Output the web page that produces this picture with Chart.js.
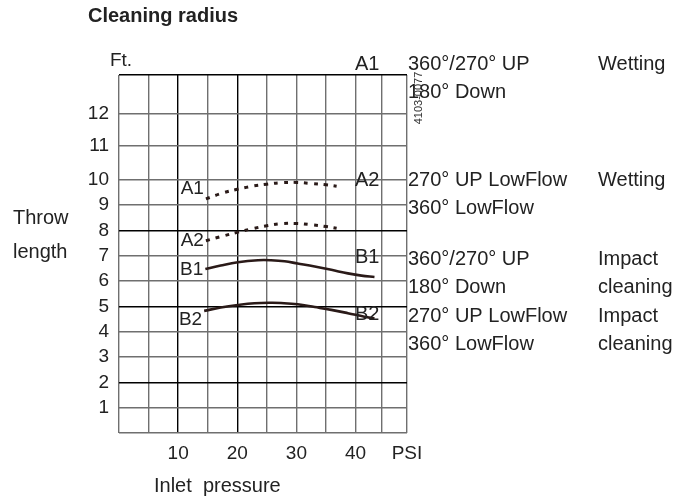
<!DOCTYPE html>
<html>
<head>
<meta charset="utf-8">
<script src="https://cdn.jsdelivr.net/npm/chart.js@4/dist/chart.umd.min.js"></script>
<style>
html,body{margin:0;padding:0;background:#fff;}
#wrap{width:689px;height:499px;position:relative;}
</style>
</head>
<body>
<div id="wrap"><canvas id="c" width="689" height="499"></canvas></div>
<script>
// ---- data (inlet pressure in PSI, throw length in ft) ----
const a1X = [14.7, 17.5, 20, 22.5, 25, 27.5, 30, 32.5, 35, 36.8];
const a1Y = [9.24, 9.47, 9.62, 9.74, 9.82, 9.88, 9.89, 9.85, 9.80, 9.74];
const a2X = [14.7, 17.5, 20, 22.5, 25, 27.5, 30, 32.5, 35, 36.8];
const a2Y = [7.59, 7.77, 7.92, 8.06, 8.18, 8.26, 8.27, 8.22, 8.15, 8.08];
const b1X = [14.6, 17.2, 20.1, 23.5, 25.7, 28.0, 30.2, 33.1, 35.9, 38.7, 41.0, 43.2];
const b1Y = [6.47, 6.61, 6.74, 6.82, 6.82, 6.78, 6.69, 6.57, 6.44, 6.30, 6.21, 6.16];
const b2X = [14.4, 17.2, 20.1, 22.9, 25.7, 27.4, 30.2, 33.1, 35.9, 38.7, 41.5, 43.2];
const b2Y = [4.82, 4.95, 5.05, 5.12, 5.14, 5.13, 5.08, 4.97, 4.86, 4.73, 4.59, 4.52];

const seriesNames = ["A1", "A2", "B1", "B2"];

// grid / tick positions (the drawing's grid is irregular above 10 ft and beyond 40 PSI)
const xGrid = [0, 5, 10, 15, 20, 25, 30, 35, 40, 44.4, 48.7];
const xTickLabels = ["", "", "10", "", "20", "", "30", "", "40", "", "PSI"];
const yGrid = [0, 1, 2, 3, 4, 5, 6, 7, 8, 9, 10, 11.33, 12.59, 14.13];
const yTickLabels = ["", "1", "2", "3", "4", "5", "6", "7", "8", "9", "10", "11", "12", ""];
const xDark = [10, 20];
const yDark = [2, 5, 8, 14.13];

// legend table text
const tagNames = ["A1", "A2", "B1", "B2"];
const nozzleLine1 = ["360°/270° UP", "270° UP LowFlow", "360°/270° UP", "270° UP LowFlow"];
const nozzleLine2 = ["180° Down", "360° LowFlow", "180° Down", "360° LowFlow"];
const useLine1 = ["Wetting", "Wetting", "Impact", "Impact"];
const useLine2 = ["", "", "cleaning", "cleaning"];

const titleText = "Cleaning radius";
const yUnit = "Ft.";
const yTitle = ["Throw", "length"];
const xTitle = "Inlet  pressure";
const drawingCode = "4103-0077";

const FONT = "'Liberation Sans', Arial, sans-serif";
const TXT = "#222";
const INK = "#2a1a18";

function pts(xs, ys) { return xs.map((x, i) => ({x: x, y: ys[i]})); }

const textPlugin = {
  id: 'texts',
  afterDraw(chart) {
    const ctx = chart.ctx;
    const ca = chart.chartArea;
    const xs = chart.scales.x, ys = chart.scales.y;
    ctx.save();
    ctx.fillStyle = TXT;
    // title
    ctx.font = "bold 20px " + FONT;
    ctx.textAlign = "left"; ctx.textBaseline = "middle";
    ctx.fillText(titleText, 88, 16);
    ctx.font = "19px " + FONT;
    ctx.textAlign = "center";
    ctx.fillText(yUnit, ca.left + 2, 61);
    ctx.textAlign = "left";
    ctx.font = "20px " + FONT;
    ctx.fillText(yTitle[0], 13, 218);
    ctx.fillText(yTitle[1], 13, 252);
    ctx.fillText(xTitle, 154, 486);

    // curve labels at start of each curve
    const starts = [[a1X[0], a1Y[0], -10], [a2X[0], a2Y[0], 0], [b1X[0], b1Y[0], 1], [b2X[0], b2Y[0], 9]];
    ctx.textAlign = "right";
    ctx.font = "19px " + FONT;
    starts.forEach((s, i) => {
      ctx.fillText(seriesNames[i], xs.getPixelForValue(s[0]) - 2, ys.getPixelForValue(s[1]) + s[2]);
    });

    // legend table on the right
    const row1 = [64, 180, 259, 316];
    const tagY = [64, 180, 257, 314];
    ctx.font = "20px " + FONT;
    ctx.textAlign = "left";
    for (let i = 0; i < 4; i++) {
      ctx.fillText(tagNames[i], ca.right - 52, tagY[i]);
      ctx.fillText(nozzleLine1[i], ca.right + 1, row1[i]);
      ctx.fillText(nozzleLine2[i], ca.right + 1, row1[i] + 28);
      ctx.fillText(useLine1[i], 598, row1[i]);
      if (useLine2[i]) ctx.fillText(useLine2[i], 598, row1[i] + 28);
    }

    // drawing code, rotated
    ctx.save();
    ctx.translate(ca.right + 12, 98);
    ctx.rotate(-Math.PI / 2);
    ctx.font = "11px " + FONT;
    ctx.textAlign = "center";
    ctx.fillStyle = "#333";
    ctx.fillText(drawingCode, 0, 0);
    ctx.restore();
    ctx.restore();
  }
};

const gridColor = (dark) => (c) => {
  const v = c.tick ? c.tick.value : null;
  return dark.some(d => Math.abs(d - v) < 1e-6) ? "#000" : "#6f6f6f";
};

new Chart(document.getElementById('c'), {
  type: 'line',
  data: {
    datasets: [
      {label: seriesNames[0], data: pts(a1X, a1Y), borderColor: INK, borderWidth: 3, borderDash: [4, 6], tension: 0.4, pointRadius: 0, fill: false},
      {label: seriesNames[1], data: pts(a2X, a2Y), borderColor: INK, borderWidth: 3, borderDash: [4, 6], tension: 0.4, pointRadius: 0, fill: false},
      {label: seriesNames[2], data: pts(b1X, b1Y), borderColor: INK, borderWidth: 2.6, tension: 0.4, pointRadius: 0, fill: false},
      {label: seriesNames[3], data: pts(b2X, b2Y), borderColor: INK, borderWidth: 2.6, tension: 0.4, pointRadius: 0, fill: false}
    ]
  },
  options: {
    responsive: false,
    animation: false,
    devicePixelRatio: 1,
    layout: {padding: {left: 0, top: 75, right: 282, bottom: 0}},
    plugins: {legend: {display: false}, tooltip: {enabled: false}, title: {display: false}},
    scales: {
      x: {
        type: 'linear',
        min: 0, max: 48.7,
        afterBuildTicks: (s) => { s.ticks = xGrid.map(v => ({value: v})); },
        afterFit: (s) => { s.height = 66; },
        ticks: {
          autoSkip: false, maxRotation: 0, padding: 9,
          color: TXT, font: {family: FONT, size: 19},
          callback: (v, i) => xTickLabels[i]
        },
        grid: {drawTicks: false, color: gridColor(xDark), lineWidth: 1.4},
        border: {display: false}
      },
      y: {
        type: 'linear',
        min: 0, max: 14.13,
        afterBuildTicks: (s) => { s.ticks = yGrid.map(v => ({value: v})); },
        afterFit: (s) => { s.width = 119; },
        ticks: {
          autoSkip: false, padding: 10,
          color: TXT, font: {family: FONT, size: 19},
          callback: (v, i) => yTickLabels[i]
        },
        grid: {drawTicks: false, color: gridColor(yDark), lineWidth: 1.4},
        border: {display: false}
      }
    }
  },
  plugins: [textPlugin]
});
</script>
</body>
</html>
